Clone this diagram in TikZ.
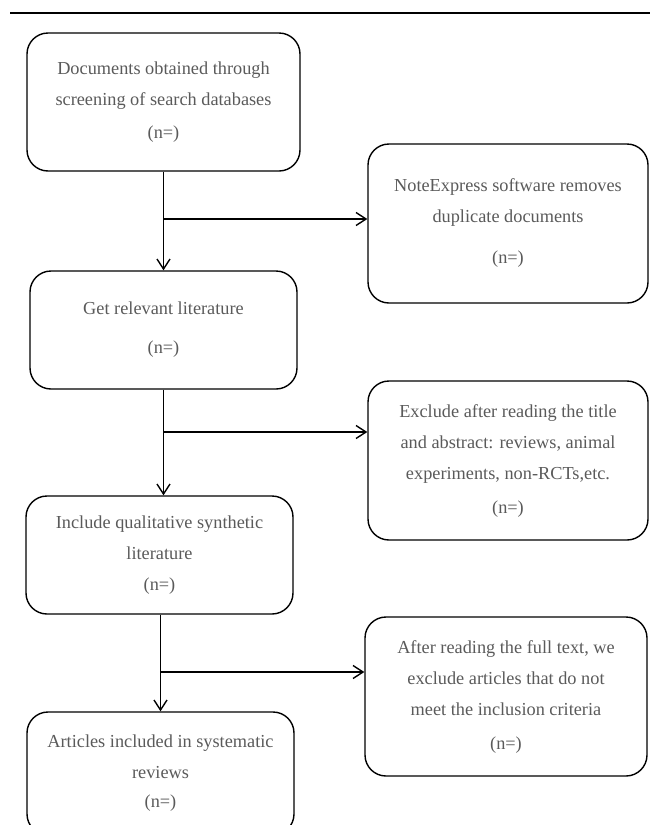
\documentclass[tikz,border=0pt]{standalone}
\usepackage{fontspec}
\setmainfont{Liberation Serif}
\usetikzlibrary{arrows.meta}
\definecolor{txt}{HTML}{5A5A5A}
\begin{document}
\begin{tikzpicture}[x=1pt,y=-1pt,
  box/.style={draw=black, line width=1.4pt, rounded corners=21pt, align=center,
    text=txt, font=\fontsize{18.3}{31}\selectfont, inner sep=0pt},
  conn/.style={draw=black, line width=1.4pt},
  arr/.style={conn, -{Straight Barb[length=10pt,width=13pt,line width=1.4pt]}}]
\useasboundingbox (0,0) rectangle (650,825);
\clip (0,0) rectangle (650,825);
\draw[line width=2.5pt] (10,13) -- (650,13);

\node[box, minimum width=273pt, minimum height=138pt] (b1) at (163.5,102)
  {Documents obtained through\\screening of search databases\\[2pt](n=)};
\node[box, minimum width=280pt, minimum height=159pt] (bA) at (508,223.5)
  {NoteExpress software removes\\duplicate documents\\[10pt](n=)};
\node[box, minimum width=267pt, minimum height=118pt] (b2) at (163.5,330)
  {Get relevant literature\\[8pt](n=)};
\node[box, minimum width=280pt, minimum height=159pt] (bB) at (508,460.5)
  {Exclude after reading the title\\and abstract: reviews, animal\\experiments, non-RCTs,etc.\\[3pt](n=)};
\node[box, minimum width=267pt, minimum height=118pt] (b3) at (159.5,555)
  {Include qualitative synthetic\\literature\\(n=)};
\node[box, minimum width=282pt, minimum height=159pt] (bC) at (506,696.5)
  {After reading the full text, we\\exclude articles that do not\\meet the inclusion criteria\\[3pt](n=)};
\node[box, minimum width=267pt, minimum height=123pt] (b4) at (160.5,773.5)
  {Articles included in systematic\\reviews\\[-2pt](n=)};

\draw[arr] (b1.south) -- (b2.north);
\coordinate (j1) at (163.5,219);
\draw[arr] (j1) -- (j1 -| bA.west);

\draw[arr] (b2.south) -- (b2.south |- b3.north);
\coordinate (j2) at (163.5,432);
\draw[arr] (j2) -- (j2 -| bB.west);

\draw[arr] (b4.north |- b3.south) -- (b4.north);
\coordinate (j3) at (160.5,672);
\draw[arr] (j3) -- (j3 -| bC.west);
\end{tikzpicture}
\end{document}
